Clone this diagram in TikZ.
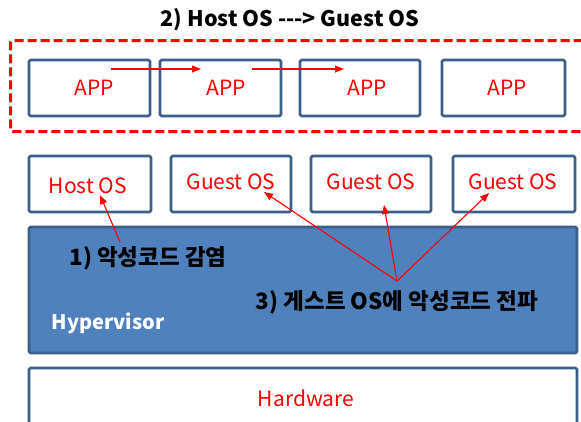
\documentclass[tikz,border=0pt]{standalone}
\usepackage{fontspec}
\setmainfont{Noto Sans CJK KR}
\usetikzlibrary{arrows.meta}
\definecolor{boxblue}{RGB}{59,94,140}
\definecolor{hvfill}{RGB}{79,129,189}
\begin{document}
\begin{tikzpicture}[x=1pt,y=-1pt,
  box/.style={draw=boxblue,line width=2.8pt,rounded corners=1.5pt,fill=white,inner sep=0pt,outer sep=0pt},
  redtxt/.style={text=red,font=\fontsize{21}{23}\selectfont,inner sep=0pt},
  blktxt/.style={font=\bfseries\fontsize{20}{22}\selectfont,inner sep=0pt},
  kortxt/.style={font=\bfseries\fontsize{22.5}{24}\selectfont,inner sep=0pt},
  arr/.style={red,line width=1.1pt,-{Triangle[length=9pt,width=7pt]}}]
\useasboundingbox (0,0) rectangle (581,421);
\clip (0,0) rectangle (581,421);
\fill[white] (0,0) rectangle (581,421);
% title and dashed group
\node[blktxt,font=\bfseries\fontsize{21.5}{23}\selectfont] (title) at (290,20) {2) Host OS -{}-{}-> Guest OS};
\node[draw=red,line width=3pt,dash pattern=on 9pt off 4pt,rounded corners=2pt,
      minimum width=600pt,minimum height=91pt,anchor=north west,inner sep=0pt] (grp) at (9,39) {};
% APP boxes
\node[box,minimum width=121pt,minimum height=56pt] (app1) at (89.5,88) {};
\node[box,minimum width=121pt,minimum height=56pt] (app2) at (220.5,88) {};
\node[box,minimum width=120pt,minimum height=56pt] (app3) at (360,88) {};
\node[box,minimum width=123pt,minimum height=56pt] (app4) at (503.5,88) {};
\node[redtxt] (appt1) at (94,88) {APP};
\node[redtxt] (appt2) at (226,88) {APP};
\node[redtxt] (appt3) at (367,88) {APP};
\node[redtxt] (appt4) at (507,88) {APP};
\coordinate (p1s) at (111,69);
\coordinate (p1e) at (201,69);
\coordinate (p2s) at (252,69);
\coordinate (p2e) at (344,69);
\draw[arr] (p1s) -- (p1e);
\draw[arr] (p2s) -- (p2e);
% OS boxes
\node[box,minimum width=122pt,minimum height=56pt] (os1) at (90,184) {};
\node[box,minimum width=120pt,minimum height=56pt] (os2) at (231,184) {};
\node[box,minimum width=120pt,minimum height=56pt] (os3) at (371,184) {};
\node[box,minimum width=122pt,minimum height=56pt] (os4) at (514,184) {};
\node[redtxt] (ost1) at (88,186) {Host OS};
\node[redtxt] (ost2) at (231,182) {Guest OS};
\node[redtxt] (ost3) at (371,182) {Guest OS};
\node[redtxt] (ost4) at (513,182) {Guest OS};
% Hypervisor
\node[box,fill=hvfill,minimum width=548pt,minimum height=126pt,anchor=north west] (hv) at (29,227) {};
\node[blktxt,text=white] (hvt) at (108,323) {Hypervisor};
\node[kortxt] (k1) at (148,258) {1) 악성코드 감염};
\node[kortxt] (k3) at (397,302) {3) 게스트 OS에 악성코드 전파};
% Hardware
\node[box,minimum width=548pt,minimum height=80pt,anchor=north west] (hw) at (29,368) {};
\node[redtxt] (hwt) at (306,398) {Hardware};
% infection arrows
\coordinate (i1) at (120,242);
\coordinate (i1e) at (100,195);
\draw[arr] (i1) -- (i1e);
\coordinate (s3) at (397,281);
\coordinate (t2) at (264,192);
\coordinate (t3) at (384,205);
\coordinate (t4) at (489,193);
\draw[arr] (s3) -- (t2);
\draw[arr] (s3) -- (t3);
\draw[arr] (s3) -- (t4);
\end{tikzpicture}
\end{document}
